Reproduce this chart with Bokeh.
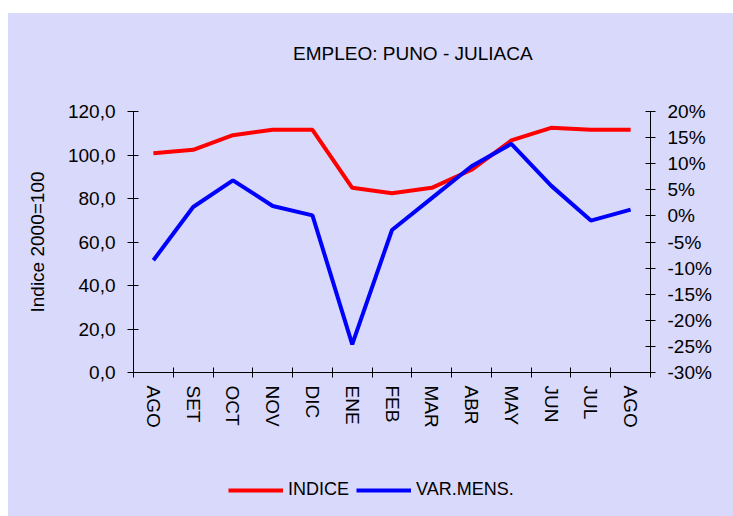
from bokeh.plotting import figure
from bokeh.models import (Range1d, LinearAxis, FixedTicker, Legend, LegendItem, Spacer, Div)
from bokeh.layouts import column, row
from bokeh.embed import file_html
from bokeh.resources import INLINE

months = ["AGO", "SET", "OCT", "NOV", "DIC", "ENE", "FEB", "MAR", "ABR", "MAY", "JUN", "JUL", "AGO"]
indice = [100.8, 102.4, 109.1, 111.6, 111.6, 84.9, 82.4, 84.9, 93.2, 106.7, 112.5, 111.6, 111.6]
var_mens = [-8.5, 1.7, 6.8, 1.9, 0.1, -24.6, -2.7, 3.4, 9.5, 13.8, 5.8, -0.9, 1.2]

left_ticks = [0, 20, 40, 60, 80, 100, 120]
left_labels = ["0,0", "20,0", "40,0", "60,0", "80,0", "100,0", "120,0"]
right_ticks = [-30, -25, -20, -15, -10, -5, 0, 5, 10, 15, 20]
right_labels = ["-30%", "-25%", "-20%", "-15%", "-10%", "-5%", "0%", "5%", "10%", "15%", "20%"]

title_text = "EMPLEO: PUNO - JULIACA"
y_label = "Indice 2000=100"
series_names = ["INDICE", "VAR.MENS."]
series_colors = ["#FF0000", "#0000FF"]

FONT = "Liberation Sans"
BG = "#D9D9FB"

xs = list(range(len(months)))

# title as a text block above the chart
title_div = Div(
    text=('<div style="padding: 31px 0 0 285px; margin: 0; font-family: \'Liberation Sans\'; '
          'font-size: 19px; line-height: 19px; color: black; white-space: nowrap;">'
          + title_text + '</div>'),
    width=725, height=60, margin=0)

p = figure(width=725, height=387, output_backend="svg", toolbar_location=None,
           x_range=Range1d(-0.5, len(months) - 0.5), y_range=Range1d(0, 120),
           min_border_left=125, min_border_right=83, min_border_top=38, min_border_bottom=88,
           background_fill_color=BG, border_fill_color=BG, outline_line_color=None)
p.extra_y_ranges = {"pct": Range1d(-30, 20)}

p.xgrid.grid_line_color = None
p.ygrid.grid_line_color = None

r1 = p.line(xs, indice, line_color=series_colors[0], line_width=4)
r2 = p.line(xs, var_mens, line_color=series_colors[1], line_width=4, y_range_name="pct")

# x axis
xa = p.xaxis[0]
xa.ticker = FixedTicker(ticks=xs, minor_ticks=[i - 0.5 for i in range(len(months) + 1)])
xa.major_label_overrides = {i: m for i, m in enumerate(months)}
xa.major_label_orientation = "vertical"
xa.major_tick_in = 0
xa.major_tick_out = 0
xa.minor_tick_in = 5
xa.minor_tick_out = 5
xa.minor_tick_line_color = "black"
xa.axis_line_color = "black"
xa.major_label_text_font = FONT
xa.major_label_text_font_size = "19px"
xa.major_label_text_color = "black"
xa.major_label_standoff = 8

# left axis
ya = p.yaxis[0]
ya.ticker = FixedTicker(ticks=left_ticks)
ya.major_label_overrides = dict(zip(left_ticks, left_labels))
ya.axis_label = y_label
ya.axis_label_text_font = FONT
ya.axis_label_text_font_size = "19px"
ya.axis_label_text_font_style = "normal"
ya.axis_label_text_color = "black"
ya.axis_label_standoff = 17
ya.major_label_text_font = FONT
ya.major_label_text_font_size = "19px"
ya.major_label_text_color = "black"
ya.major_tick_in = 5
ya.major_tick_out = 6
ya.minor_tick_line_color = None
ya.major_label_standoff = 12

# right axis
ra = LinearAxis(y_range_name="pct", ticker=FixedTicker(ticks=right_ticks))
ra.major_label_overrides = dict(zip(right_ticks, right_labels))
ra.major_label_text_font = FONT
ra.major_label_text_font_size = "19px"
ra.major_label_text_color = "black"
ra.major_tick_in = 5
ra.major_tick_out = 5
ra.minor_tick_line_color = None
ra.major_label_standoff = 12
p.add_layout(ra, "right")

# legend strip below the chart (series drawn off-view, used only as legend proxies)
pl = figure(width=725, height=56, output_backend="svg", toolbar_location=None,
            x_axis_type=None, y_axis_type=None,
            x_range=Range1d(-100, -99), y_range=Range1d(-1000, -999),
            min_border_left=0, min_border_right=0, min_border_top=0, min_border_bottom=0,
            background_fill_alpha=0, border_fill_alpha=0, outline_line_color=None)
pl.xgrid.grid_line_color = None
pl.ygrid.grid_line_color = None
lr1 = pl.line(xs, indice, line_color=series_colors[0], line_width=4)
lr2 = pl.line(xs, var_mens, line_color=series_colors[1], line_width=4)
legend = Legend(items=[LegendItem(label=series_names[0], renderers=[lr1]),
                       LegendItem(label=series_names[1], renderers=[lr2])],
                orientation="horizontal", location=(95, 16),
                glyph_width=55, glyph_height=20, label_standoff=5, spacing=7,
                label_text_font=FONT, label_text_font_size="18px", label_text_color="black",
                background_fill_alpha=0, border_line_color=None, margin=0, padding=6)
pl.add_layout(legend, "center")

inner = column(title_div, p, pl, styles={"background-color": BG})
layout = row(Spacer(width=8, height=516), column(Spacer(width=725, height=13), inner))
open("out.html", "w").write(file_html(layout, INLINE))
